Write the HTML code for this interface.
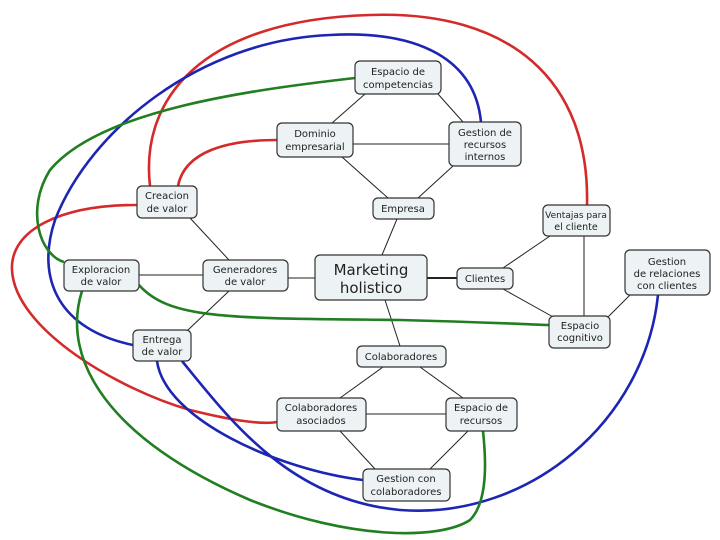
<!DOCTYPE html>
<html><head><meta charset="utf-8"><style>
body{margin:0;background:#fff;}
svg{display:block}
text{font-family:"DejaVu Sans","Liberation Sans",sans-serif;font-size:10px;fill:#222;text-anchor:middle}
.n{fill:#edf2f5;stroke:#333;stroke-width:1.2}
.l{stroke:#222;stroke-width:1;fill:none}
.c{fill:none;stroke-width:2.6}
</style></head><body>
<svg width="720" height="540" viewBox="0 0 720 540" xmlns="http://www.w3.org/2000/svg">
<g class="l">
<line x1="365" y1="94" x2="332" y2="123"/><line x1="438" y1="94" x2="463" y2="122"/>
<line x1="353" y1="144" x2="449" y2="144"/>
<line x1="342" y1="157" x2="388" y2="198"/><line x1="453" y1="166" x2="418" y2="198"/>
<line x1="397" y1="219" x2="382" y2="255"/>
<line x1="288" y1="278" x2="315" y2="278"/>
<line x1="139" y1="275" x2="203" y2="275"/>
<line x1="190" y1="218" x2="229" y2="260"/><line x1="229" y1="291" x2="188" y2="330"/>
<line x1="427" y1="278" x2="457" y2="278" stroke-width="2"/>
<line x1="503" y1="268" x2="550" y2="236"/><line x1="503" y1="289" x2="555" y2="318"/>
<line x1="584" y1="236" x2="584" y2="316"/><line x1="607" y1="318" x2="630" y2="295"/>
<line x1="385" y1="300" x2="400" y2="346"/>
<line x1="383" y1="367" x2="340" y2="398"/><line x1="420" y1="367" x2="463" y2="398"/>
<line x1="366" y1="414" x2="446" y2="414"/>
<line x1="340" y1="431" x2="375" y2="469"/><line x1="468" y1="431" x2="430" y2="469"/>
</g>
<path class="c" stroke="#d42a2a" d="M150,186 C140,100 200,20 370,15 C510,10 590,80 587,205"/>
<path class="c" stroke="#d42a2a" d="M178,186 C185,150 230,140 277,140"/>
<path class="c" stroke="#d42a2a" d="M137,205 C60,205 10,230 12,270 C15,330 120,390 190,410 C230,420 260,425 277,422"/>
<path class="c" stroke="#1c25b4" d="M481,122 C475,60 420,30 330,35 C200,40 90,130 55,220 C35,280 60,330 133,345"/>
<path class="c" stroke="#1c25b4" d="M157,361 C165,420 280,470 363,480"/>
<path class="c" stroke="#1c25b4" d="M182,361 C230,420 290,500 400,510 C530,520 645,420 658,295"/>
<path class="c" stroke="#217e21" d="M355,78 C250,90 100,110 50,170 C25,210 40,255 64,262"/>
<path class="c" stroke="#217e21" d="M139,285 C170,320 230,318 400,320 C480,322 520,324 549,325"/>
<path class="c" stroke="#217e21" d="M82,291 C60,360 110,440 250,500 C350,540 440,540 470,520 C490,500 485,450 483,431"/>
<rect class="n" x="355" y="61" width="86" height="33" rx="5"/><text x="398" y="75">Espacio de</text><text x="398" y="88">competencias</text>
<rect class="n" x="277" y="123" width="76" height="34" rx="5"/><text x="315" y="137">Dominio</text><text x="315" y="150">empresarial</text>
<rect class="n" x="449" y="122" width="72" height="44" rx="5"/><text x="485" y="136">Gestion de</text><text x="485" y="148">recursos</text><text x="485" y="160">internos</text>
<rect class="n" x="373" y="198" width="61" height="21" rx="5"/><text x="403" y="212">Empresa</text>
<rect class="n" x="315" y="255" width="112" height="45" rx="5"/><text x="371" y="275" style="font-size:15px">Marketing</text><text x="371" y="293" style="font-size:15px">holistico</text>
<rect class="n" x="457" y="268" width="56" height="21" rx="5"/><text x="485" y="282">Clientes</text>
<rect class="n" x="543" y="205" width="67" height="31" rx="5"/><text x="576" y="218" style="font-size:9px">Ventajas para</text><text x="576" y="230" style="font-size:9.5px">el cliente</text>
<rect class="n" x="625" y="250" width="85" height="45" rx="5"/><text x="667" y="265">Gestion</text><text x="667" y="277">de relaciones</text><text x="667" y="289">con clientes</text>
<rect class="n" x="549" y="316" width="61" height="32" rx="5"/><text x="580" y="329">Espacio</text><text x="580" y="341">cognitivo</text>
<rect class="n" x="357" y="346" width="89" height="21" rx="5"/><text x="401" y="360">Colaboradores</text>
<rect class="n" x="277" y="398" width="89" height="33" rx="5"/><text x="321" y="411">Colaboradores</text><text x="321" y="424">asociados</text>
<rect class="n" x="446" y="398" width="71" height="33" rx="5"/><text x="481" y="411">Espacio de</text><text x="481" y="424">recursos</text>
<rect class="n" x="363" y="469" width="87" height="32" rx="5"/><text x="406" y="482">Gestion con</text><text x="406" y="495">colaboradores</text>
<rect class="n" x="137" y="186" width="60" height="32" rx="5"/><text x="167" y="199">Creacion</text><text x="167" y="212">de valor</text>
<rect class="n" x="64" y="260" width="75" height="31" rx="5"/><text x="101" y="273">Exploracion</text><text x="101" y="285">de valor</text>
<rect class="n" x="203" y="260" width="85" height="31" rx="5"/><text x="245" y="273">Generadores</text><text x="245" y="285">de valor</text>
<rect class="n" x="133" y="330" width="58" height="31" rx="5"/><text x="162" y="343">Entrega</text><text x="162" y="355">de valor</text>
</svg>
</body></html>
